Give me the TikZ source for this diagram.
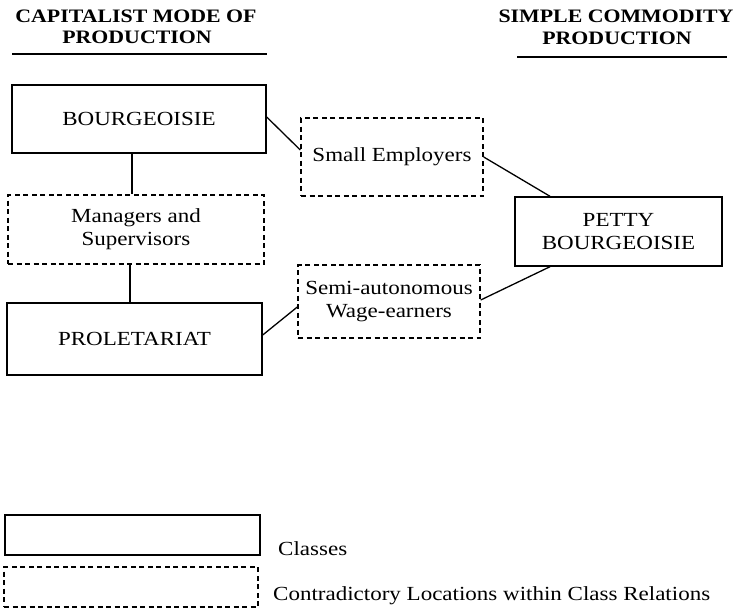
\documentclass[tikz,border=0pt]{standalone}
\usepackage{fontspec}
\setmainfont{Liberation Serif}[FakeStretch=1.15]
\usetikzlibrary{calc}
\tikzset{
  clsbox/.style={draw, line width=1.4pt, inner sep=0pt, align=center, font=\fontsize{20}{23}\selectfont},
  ctrbox/.style={draw, line width=1.4pt, dash pattern=on 5pt off 3.5pt, inner sep=0pt, align=center, font=\fontsize{20}{23}\selectfont},
  link/.style={line width=1.3pt},
  hdr/.style={font=\fontsize{19}{22}\selectfont\bfseries, inner sep=0pt, anchor=base},
  rule/.style={line width=1.6pt},
  lbl/.style={font=\fontsize{20}{23}\selectfont, inner sep=0pt, anchor=base west}
}
\begin{document}
\begin{tikzpicture}[x=1pt,y=-1pt]
\useasboundingbox (0,0) rectangle (744,613);
% headers
\node[hdr] (h1a) at (136,22) {CAPITALIST MODE OF};
\node[hdr] (h1b) at (137,43) {PRODUCTION};
\coordinate (u1a) at (12,54);
\coordinate (u1b) at (267,54);
\draw[rule] (u1a) -- (u1b);
\node[hdr] (h2a) at (616,22) {SIMPLE COMMODITY};
\node[hdr] (h2b) at (617,44) {PRODUCTION};
\coordinate (u2a) at (517,57);
\coordinate (u2b) at (727,57);
\draw[rule] (u2a) -- (u2b);
% boxes
\node[clsbox, minimum width=254pt, minimum height=68pt] (b) at (139,119) {BOURGEOISIE};
\node[ctrbox, minimum width=256pt, minimum height=69pt] (m) at (136,229.5) {Managers and\\Supervisors};
\node[clsbox, minimum width=255pt, minimum height=72pt] (p) at (134.5,339) {PROLETARIAT};
\node[ctrbox, minimum width=182pt, minimum height=78pt] (se) at (392,157) {Small Employers};
\node[ctrbox, minimum width=182pt, minimum height=73pt] (sa) at (389,301.5) {Semi-autonomous\\Wage-earners};
\node[clsbox, minimum width=207pt, minimum height=69pt] (pb) at (618.5,231.5) {PETTY\\BOURGEOISIE};
% connectors
\draw[link] ([xshift=-7pt]b.south) -- ([xshift=-4pt]m.north);
\draw[link] ([xshift=-6pt]m.south) -- ([xshift=-4.5pt]p.north);
\draw[link] ([yshift=2pt]b.east) -- ([yshift=7pt]se.west);
\draw[link] (se.east) -- ([xshift=-68.5pt]pb.north);
\draw[link] ([xshift=-68.5pt]pb.south) -- ([yshift=1.5pt]sa.east);
\draw[link] ([yshift=4pt]p.east) -- ([yshift=-5.5pt]sa.west);
% legend
\node[clsbox, minimum width=255pt, minimum height=40pt] (lg1) at (132.5,535) {};
\node[ctrbox, minimum width=254pt, minimum height=40pt] (lg2) at (131,587) {};
\node[lbl] (l1) at (278,555) {Classes};
\node[lbl] (l2) at (273,600) {Contradictory Locations within Class Relations};
\end{tikzpicture}
\end{document}
